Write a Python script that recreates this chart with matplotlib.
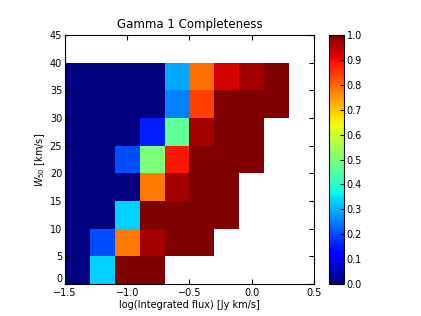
import numpy as np
import matplotlib
matplotlib.use("Agg")
import matplotlib.pyplot as plt

x_edges = [-1.5, -1.3, -1.1, -0.9, -0.7, -0.5, -0.3, -0.1, 0.1, 0.3]
y_edges = [0, 5, 10, 15, 20, 25, 30, 35, 40]
nan = np.nan
# rows: bottom (0-5) to top (35-40)
row_0_5   = [0.0, 0.33, 1.0, 1.0, nan, nan, nan, nan, nan]
row_5_10  = [0.0, 0.20, 0.78, 0.965, 1.0, 1.0, nan, nan, nan]
row_10_15 = [0.0, 0.0, 0.33, 1.0, 1.0, 1.0, 1.0, nan, nan]
row_15_20 = [0.0, 0.0, 0.0, 0.78, 0.965, 1.0, 1.0, nan, nan]
row_20_25 = [0.0, 0.0, 0.20, 0.50, 0.886, 1.0, 1.0, 1.0, nan]
row_25_30 = [0.0, 0.0, 0.0, 0.156, 0.466, 0.965, 1.0, 1.0, nan]
row_30_35 = [0.0, 0.0, 0.0, 0.0, 0.25, 0.84, 1.0, 1.0, 1.0]
row_35_40 = [0.0, 0.0, 0.0, 0.0, 0.29, 0.79, 0.923, 0.965, 1.0]

Z = np.ma.masked_invalid(np.array([row_0_5, row_5_10, row_10_15, row_15_20,
                                   row_20_25, row_25_30, row_30_35, row_35_40]))

fig = plt.figure(figsize=(4.21, 3.16), dpi=100)
ax = fig.add_axes([65/421, 1-284/316, (314-65)/421, (284-35)/316])
cax = fig.add_axes([329/421, 1-284/316, 15/421, (284-35)/316])

mesh = ax.pcolormesh(x_edges, y_edges, Z, cmap='jet', vmin=0, vmax=1)
ax.set_xlim(-1.5, 0.5)
ax.set_ylim(0, 45)
ax.set_xticks([-1.5, -1.0, -0.5, 0.0, 0.5])
ax.set_yticks(range(0, 50, 5))
ax.tick_params(direction='in', top=True, right=True, labelsize=7, length=3.5)
ax.tick_params(axis='x', pad=3)
ax.tick_params(axis='y', pad=2)
ax.set_xlabel('log(Integrated flux) [Jy km/s]', fontsize=7, labelpad=1)
ax.set_ylabel('$W_{50}$ [km/s]', fontsize=7, labelpad=2)
ax.set_title('Gamma 1 Completeness', fontsize=8.5, pad=5)
# keep the bottom y label clear of the first x label
ax.get_yticklabels()[0].set_verticalalignment('bottom')

cb = fig.colorbar(mesh, cax=cax, ticks=np.arange(0, 1.01, 0.1))
cb.ax.tick_params(labelsize=7, direction='in', length=3, pad=2)
cb.outline.set_linewidth(0.8)

fig.savefig('out.png', dpi=100)
